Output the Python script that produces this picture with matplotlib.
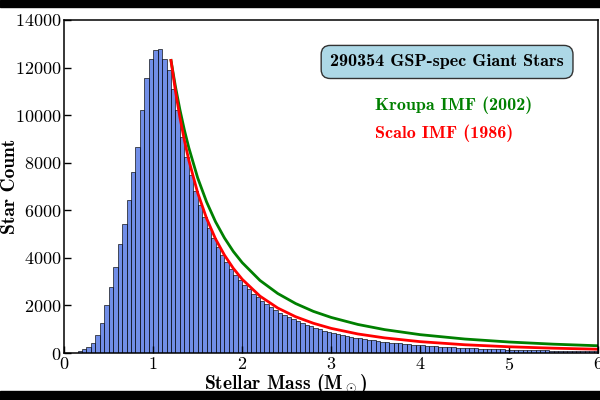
import matplotlib
matplotlib.use("Agg")
from matplotlib import pyplot as plt
from matplotlib.patches import Rectangle
import numpy as np

# histogram: 0.05 Msun bins from 0 to 6
bin_edges = np.arange(0, 6.0001, 0.05)
star_counts = [
    0, 5, 20, 80, 160, 260, 400, 770, 1270, 2000,
    2760, 3600, 4580, 5420, 6420, 7620, 8660, 10200, 11550, 12360,
    12740, 12780, 12350, 11900, 11100, 10200, 9100, 8230, 7470, 6800,
    6220, 5700, 5240, 4820, 4450, 4120, 3820, 3550, 3300, 3080,
    2870, 2680, 2500, 2340, 2190, 2050, 1920, 1800, 1690, 1590,
    1500, 1410, 1330, 1250, 1180, 1115, 1050, 990, 940, 890,
    840, 795, 755, 715, 680, 645, 615, 585, 555, 530,
    505, 480, 460, 440, 420, 400, 383, 366, 350, 335,
    320, 306, 293, 281, 269, 258, 247, 237, 227, 218,
    209, 201, 193, 186, 179, 172, 165, 159, 153, 147,
    142, 137, 132, 127, 122, 118, 114, 110, 106, 102,
    99, 95, 92, 89, 86, 83, 80, 78, 75, 73,
]

# IMF curves
imf_mass = [1.2, 1.25, 1.3, 1.35, 1.4, 1.5, 1.6, 1.7, 1.8, 1.9, 2.0, 2.2,
            2.4, 2.6, 2.8, 3.0, 3.3, 3.6, 4.0, 4.5, 5.0, 5.5, 6.0]
kroupa = [12300, 11200, 10230, 9380, 8630, 7360, 6350, 5520, 4840, 4270, 3800, 3050,
          2500, 2080, 1750, 1495, 1200, 983, 771, 588, 462, 371, 304]
scalo = [12300, 11020, 9910, 8950, 8110, 6730, 5660, 4800, 4120, 3560, 3100, 2390,
         1890, 1525, 1250, 1035, 800, 635, 477, 347, 261, 202, 159]

plt.rcParams['font.family'] = 'cmr10'
plt.rcParams['mathtext.fontset'] = 'cm'
plt.rcParams['axes.formatter.use_mathtext'] = True
plt.rcParams['axes.unicode_minus'] = False

fig = plt.figure(figsize=(6, 4), dpi=100)
ax = fig.add_axes([0.107, 0.1175, 0.89, 0.8325])

ax.bar(bin_edges[:-1], star_counts, width=0.05, align='edge',
       color='royalblue', alpha=0.75, edgecolor='black', linewidth=0.6)

ax.plot(imf_mass, kroupa, color='green', lw=2)
ax.plot(imf_mass, scalo, color='red', lw=2)

ax.set_xlim(0, 6)
ax.set_ylim(0, 14000)
ax.set_xticks(range(0, 7))
ax.set_yticks(range(0, 14001, 2000))
ax.tick_params(direction='in', length=5, width=1, labelsize=13, pad=2)
for s in ax.spines.values():
    s.set_linewidth(1.1)

ax.set_xlabel(r'Stellar Mass (M$_\odot$)', family='cmb10', fontsize=14)
ax.xaxis.set_label_coords(0.415, -0.056)
ax.set_ylabel('Star Count', family='cmb10', fontsize=14)
ax.yaxis.set_label_coords(-0.084, 0.5)

ax.text(0.717, 0.874, '290354 GSP-spec Giant Stars', transform=ax.transAxes,
        ha='center', va='center', family='cmb10', fontsize=13,
        bbox=dict(boxstyle='round,pad=0.5', facecolor='lightblue', edgecolor='#333333', lw=1))
ax.text(0.582, 0.745, 'Kroupa IMF (2002)', transform=ax.transAxes,
        ha='left', va='center', family='cmb10', fontsize=13, color='green')
ax.text(0.582, 0.661, 'Scalo IMF (1986)', transform=ax.transAxes,
        ha='left', va='center', family='cmb10', fontsize=13, color='red')

# letterbox bars
fig.add_artist(Rectangle((0, 0.9825), 1, 0.0175, transform=fig.transFigure, color='black'))
fig.add_artist(Rectangle((0, 0), 1, 0.0225, transform=fig.transFigure, color='black'))

plt.savefig('out.png', dpi=100)
